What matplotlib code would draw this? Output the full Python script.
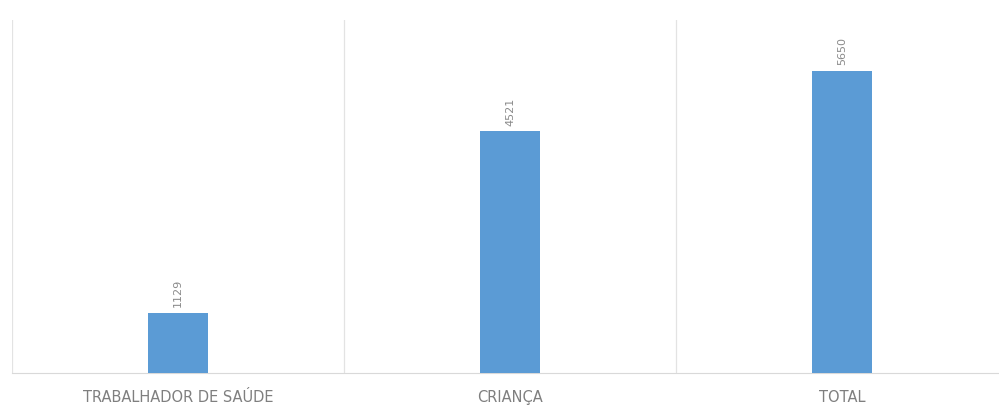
import matplotlib.pyplot as plt
import numpy as np

categories = ["TRABALHADOR DE SAÚDE", "CRIANÇA", "TOTAL"]
values = [1129, 4521, 5650]

W, H = 999, 407
fig = plt.figure(figsize=(W / 100, H / 100), dpi=100)
# category width ~332 px, first separator at x=12
ax = fig.add_axes([12 / W, 34 / H, 996 / W, 353 / H])

x = np.arange(len(categories))
bars = ax.bar(x, values, width=0.18, color="#5B9BD5", zorder=3)

for b, v in zip(bars, values):
    ax.text(b.get_x() + b.get_width() / 2, v + 100, str(v), rotation=90,
            ha="center", va="bottom", fontsize=8, color="#8a8a8a")

ax.set_xlim(-0.5, len(categories) - 0.5)
ax.set_ylim(0, 6600)
ax.set_yticks([])
ax.set_xticks(x)
ax.set_xticklabels(categories, fontsize=10.5, color="#7f7f7f")
ax.tick_params(axis="x", length=0, pad=12)

# category separators
for s in np.arange(-0.5, len(categories), 1.0):
    ax.axvline(s, color="#e3e3e3", lw=0.9, zorder=1)

for sp in ["top", "right", "left"]:
    ax.spines[sp].set_visible(False)
ax.spines["bottom"].set_color("#d9d9d9")

fig.savefig("out.png", dpi=100)
